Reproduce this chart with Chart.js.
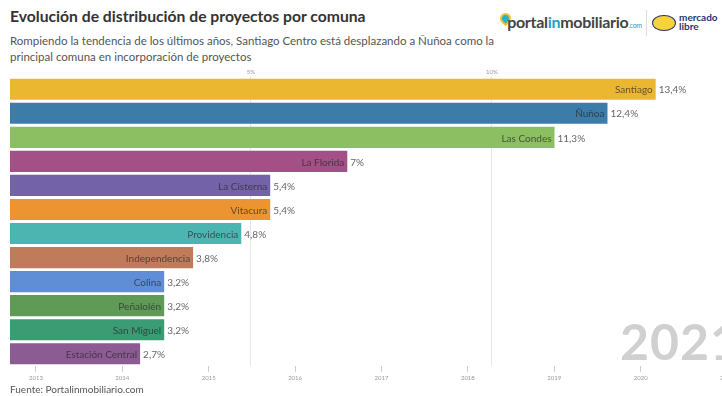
<!DOCTYPE html>
<html>
<head>
<meta charset="utf-8">
<script src="https://cdn.jsdelivr.net/npm/chart.js"></script>
<style>
    body { margin: 0; width: 722px; height: 396px; overflow: hidden; background: #fff; font-family: Lato, "Open Sans", sans-serif; position: relative; }
    #title { position: absolute; left: 10px; top: 7px; font-size: 15.7px; font-weight: 700; color: #333; }
    #subtitle { position: absolute; left: 10px; top: 33px; width: 500px; font-size: 11.5px; line-height: 16px; color: #555; }
    #source { position: absolute; left: 10px; top: 383px; font-size: 10px; color: #555; }
    #year { position: absolute; left: 620px; top: 311px; font-size: 50px; font-weight: 700; color: #d0d0d0; letter-spacing: 1px; }
    #wrap { position: absolute; left: 0; top: 66px; width: 740px; height: 319px; }
    #logo1 { position: absolute; left: 500px; top: 12px; font-size: 16px; font-weight: 700; color: #444; letter-spacing: -0.3px; }
    #logo1 .in { color: #1f9fc7; }
    #logo1 .com { font-size: 7px; color: #1f9fc7; font-weight: 400; }
    #pin { position: absolute; left: 500px; top: 13px; width: 11px; height: 11px; border-radius: 50% 50% 50% 0; transform: rotate(-45deg); background: #2bb3c0; border: 2px solid #f2c230; box-sizing: border-box; }
    #sep { position: absolute; left: 646px; top: 10px; width: 1px; height: 26px; background: #ddd; }
    #ml { position: absolute; left: 652px; top: 15px; width: 24px; height: 16px; border-radius: 50%; background: #f5d33a; border: 1px solid #2d3277; box-sizing: border-box; }
    #mltext { position: absolute; left: 679px; top: 13px; font-size: 10px; line-height: 9px; font-weight: 700; color: #2d3277; }
</style>
</head>
<body>
<div id="title">Evolución de distribución de proyectos por comuna</div>
<div id="subtitle">Rompiendo la tendencia de los últimos años, Santiago Centro está desplazando a Ñuñoa como la principal comuna en incorporación de proyectos</div>
<div id="pin"></div>
<div id="logo1">&nbsp;&nbsp;portal<span class="in">in</span>mobiliario<span class="com">.com</span></div>
<div id="sep"></div>
<div id="ml"></div>
<div id="mltext">mercado<br>libre</div>
<div id="wrap"><canvas id="chart"></canvas></div>
<div id="year">2021</div>
<div id="source">Fuente: Portalinmobiliario.com</div>
<script>
const comunas = ['Santiago', 'Ñuñoa', 'Las Condes', 'La Florida', 'La Cisterna', 'Vitacura', 'Providencia', 'Independencia', 'Colina', 'Peñalolén', 'San Miguel', 'Estación Central']
const porcentajes = [13.4, 12.4, 11.3, 7, 5.4, 5.4, 4.8, 3.8, 3.2, 3.2, 3.2, 2.7]
const colores = ['#ecb730', '#3b7ca9', '#8bbf62', '#a44f86', '#7462a8', '#ec9432', '#4db5b1', '#c07b5b', '#5f8dd6', '#5f9b56', '#3b9b72', '#8c5b93']
const pctTicks = [5, 10]
const years = [2013, 2014, 2015, 2016, 2017, 2018, 2019, 2020, 2021]

function fmt(v) {
    return String(v).replace('.', ',') + '%'
}

const barLabels = {
    id: 'barLabels',
    afterDatasetsDraw(chart) {
        const ctx = chart.ctx
        const meta = chart.getDatasetMeta(0)
        ctx.save()
        ctx.textBaseline = 'middle'
        meta.data.forEach(function(bar, i) {
            ctx.font = '10px Lato'
            ctx.textAlign = 'right'
            ctx.fillStyle = 'rgba(40,40,40,0.7)'
            ctx.fillText(comunas[i], bar.x - 3, bar.y + 1)
            ctx.textAlign = 'left'
            ctx.fillStyle = '#666'
            ctx.fillText(fmt(porcentajes[i]), bar.x + 3, bar.y + 1)
        })
        ctx.restore()
    }
}

new Chart(document.getElementById('chart'), {
    type: 'bar',
    data: {
        labels: comunas,
        datasets: [{
            data: porcentajes,
            backgroundColor: colores,
            barPercentage: 0.88,
            categoryPercentage: 1
        }]
    },
    options: {
        indexAxis: 'y',
        responsive: true,
        maintainAspectRatio: false,
        animation: false,
        layout: { padding: { left: 10, right: 0, top: 0, bottom: 0 } },
        plugins: { legend: { display: false }, tooltip: { enabled: false } },
        scales: {
            x: {
                position: 'top',
                min: 0,
                max: 15.15,
                afterBuildTicks: function(axis) {
                    axis.ticks = pctTicks.map(function(v) { return { value: v } })
                },
                ticks: {
                    font: { size: 6, family: 'Lato' },
                    color: '#999',
                    padding: 2,
                    callback: function(v) { return v + '%' }
                },
                grid: { color: '#e6e6e6', tickLength: 2, drawTicks: false },
                border: { display: false }
            },
            x2: {
                type: 'linear',
                position: 'bottom',
                min: 2012.7,
                max: 2021.15,
                afterBuildTicks: function(axis) {
                    axis.ticks = years.map(function(v) { return { value: v } })
                },
                ticks: {
                    font: { size: 6, family: 'Lato' },
                    color: '#999',
                    padding: 3,
                    callback: function(v) { return String(v) }
                },
                grid: { drawOnChartArea: false, color: '#ccc', tickLength: 6 },
                border: { display: false }
            },
            y: { display: false }
        }
    },
    plugins: [barLabels]
})
</script>
</body>
</html>
